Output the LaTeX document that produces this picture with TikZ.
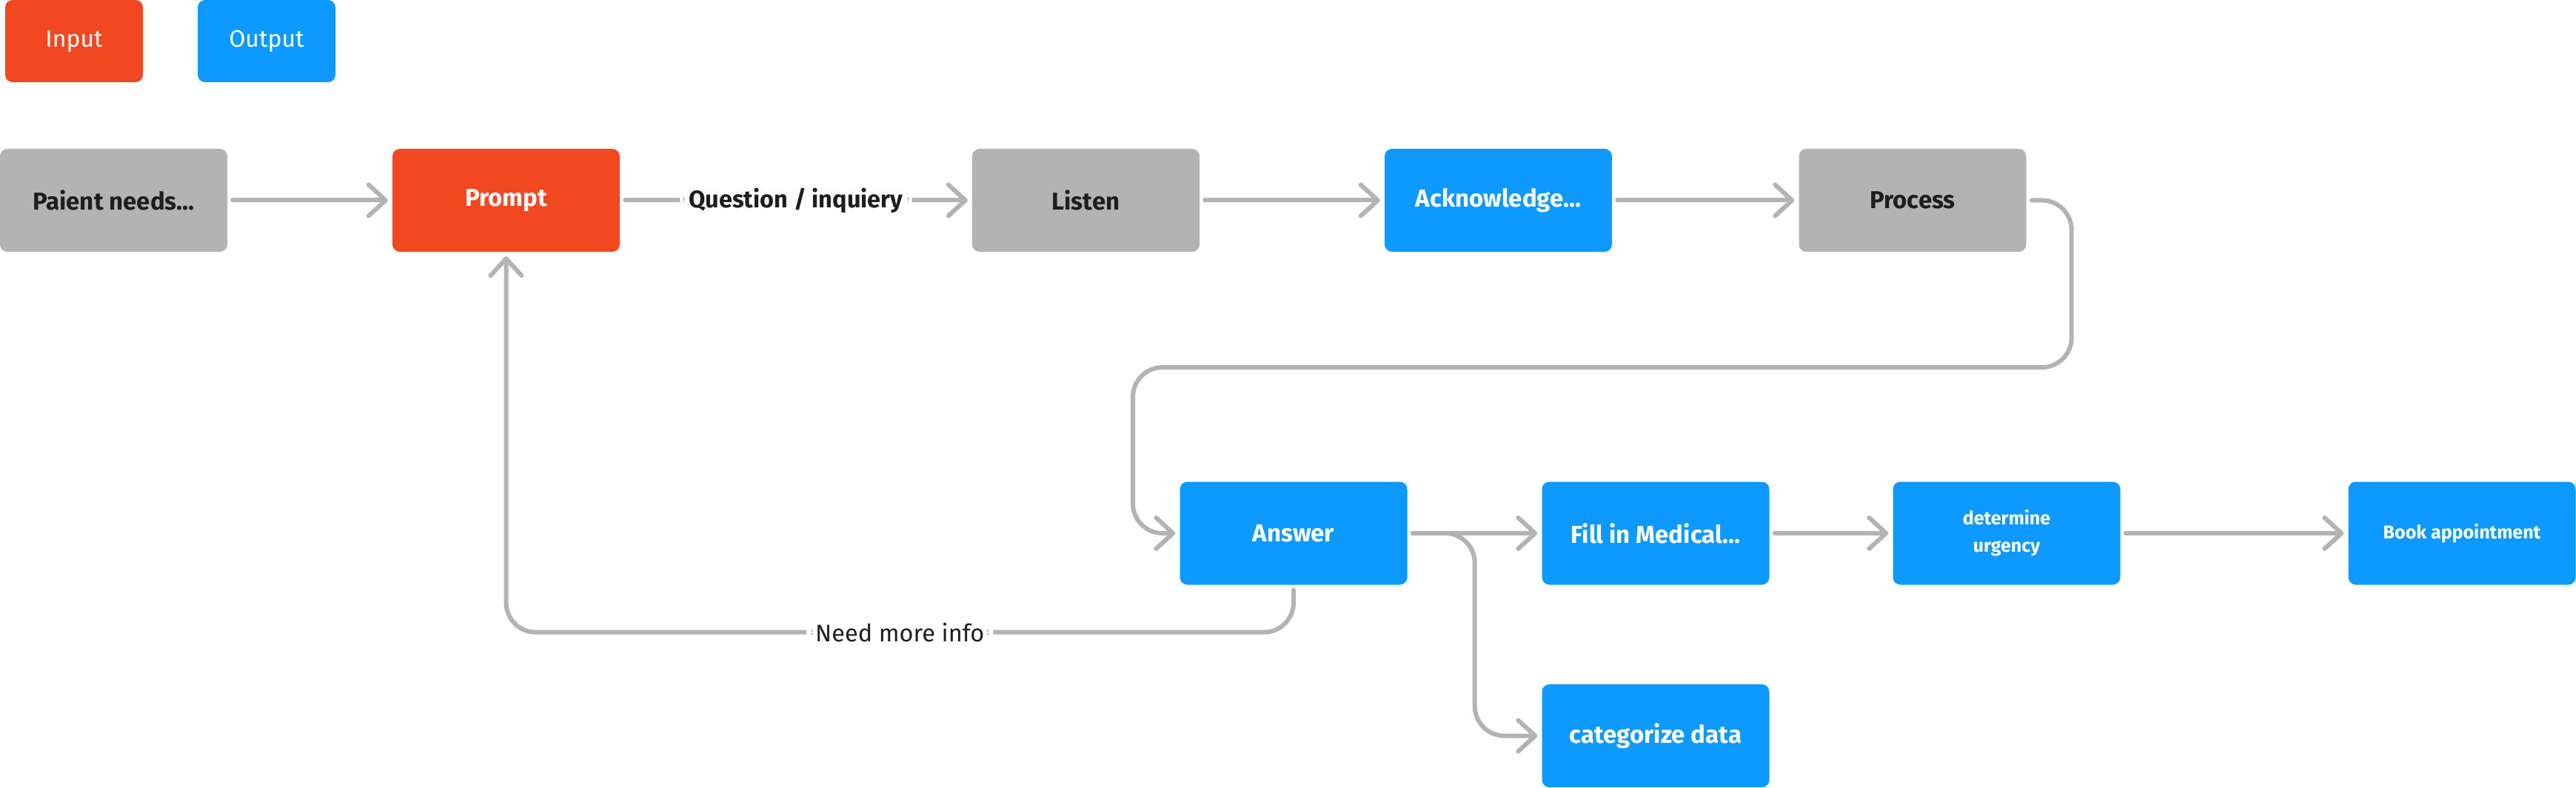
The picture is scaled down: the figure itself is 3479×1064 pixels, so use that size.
\documentclass[tikz,border=0pt]{standalone}
\usepackage{fontspec}
\setmainfont{Fira Sans}
\usetikzlibrary{arrows.meta, positioning}
\definecolor{inputred}{HTML}{F24822}
\definecolor{outputblue}{HTML}{0D99FF}
\definecolor{stepgray}{HTML}{B3B3B3}
\definecolor{textdark}{HTML}{1E1E1E}

\begin{document}
\begin{tikzpicture}[x=1pt, y=-1pt,
	box/.style={rounded corners=10pt, minimum width=307pt, minimum height=139pt,
		inner sep=0pt, align=center, font=\fontsize{33}{40}\selectfont\bfseries},
	greybox/.style={box, fill=stepgray, text=textdark},
	inbox/.style={box, fill=inputred, text=white},
	outbox/.style={box, fill=outputblue, text=white},
	smalltext/.style={font=\fontsize{25}{37}\selectfont\bfseries},
	legend/.style={minimum width=186pt, minimum height=111pt, font=\fontsize{32}{38}\selectfont},
	link/.style={draw=stepgray, line width=6pt, line cap=round, rounded corners=40pt,
		shorten <=7pt, shorten >=6pt,
		-{Straight Barb[length=23pt, width=42pt, line cap=round, line join=round]}},
	lbl/.style={fill=white, text=textdark, inner xsep=12pt, inner ysep=4pt,
		font=\fontsize{32.5}{38}\selectfont}]
		\useasboundingbox (0,0) rectangle (3479,1064);
		
		\node[inbox, legend] (input) at (100,55.5) {Input};
		\node[outbox, legend] (output) at (360,55.5) {Output};
		
		\node[greybox] (paient) at (153.5,270.5) {Paient needs…};
		\node[inbox] (prompt) at (683.5,270.5) {Prompt};
		\node[greybox] (listen) at (1466.5,270.5) {Listen};
		\node[outbox] (acknowledge) at (2023.5,270.5) {Acknowledge…};
		\node[greybox] (process) at (2583,270.5) {Process};
		
		\node[outbox] (answer) at (1747,720) {Answer};
		\node[outbox] (medical) at (2236,720) {Fill in Medical…};
		\node[outbox, smalltext] (urgency) at (2710,720) {determine\\urgency};
		\node[outbox, smalltext] (book) at (3325,720) {Book appointment};
		\node[outbox] (categorize) at (2236,993.5) {categorize data};
		
		\draw[link] (paient) -- (prompt);
		\draw[link] (prompt) -- node[lbl, font=\fontsize{32.5}{38}\selectfont\bfseries] {Question / inquiery} (listen);
		\draw[link] (listen) -- (acknowledge);
		\draw[link] (acknowledge) -- (process);
		\draw[link] (process.east) -- ++(61,0) |- (1530,496) |- (answer.west);
		\draw[link] (answer.east) -- (medical);
		\draw[link] (answer.east) -- ++(91,0) |- (categorize.west);
		\draw[link] (medical) -- (urgency);
		\draw[link] (urgency) -- (book);
		\draw[link] (answer.south) -- ++(0,64) -| node[lbl, pos=0.25] {Need more info} (prompt.south);
	\end{tikzpicture}
\end{document}
